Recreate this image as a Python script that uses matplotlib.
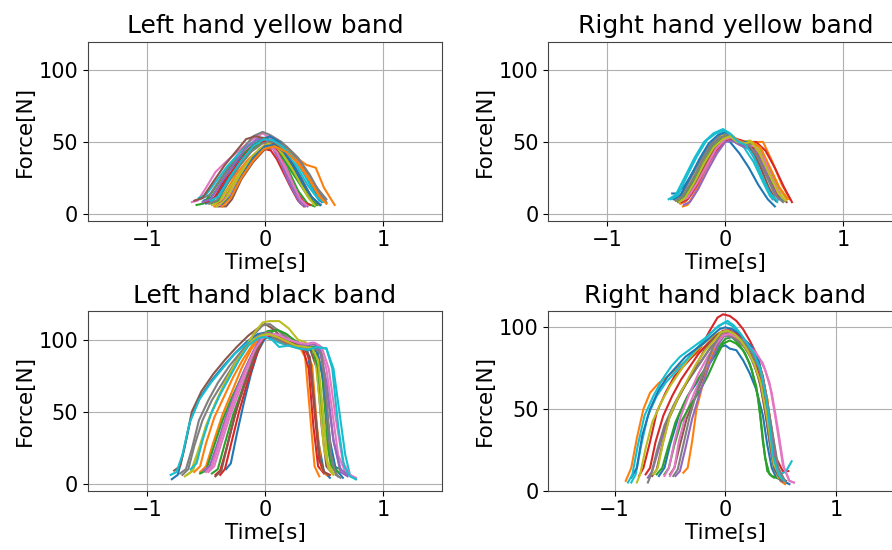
import matplotlib
matplotlib.use("Agg")
import matplotlib.pyplot as plt

# Force profiles per trial: time [s] relative to peak, force [N]

# left hand, yellow band
lh_yellow_t = [
    [-0.52, -0.46, -0.38, -0.3, -0.2, -0.1, 0.0, 0.1, 0.2, 0.3, 0.38, 0.46],
    [-0.45, -0.39, -0.32, -0.24, -0.14, -0.04, 0.05, 0.15, 0.25, 0.35, 0.43, 0.5, 0.59],
    [-0.58, -0.52, -0.44, -0.34, -0.24, -0.14, -0.04, 0.04, 0.12, 0.2, 0.28, 0.36, 0.42],
    [-0.4, -0.33, -0.25, -0.16, -0.07, 0.0, 0.05, 0.1, 0.16, 0.22, 0.28, 0.33],
    [-0.42, -0.36, -0.28, -0.18, -0.08, 0.0, 0.07, 0.13, 0.19, 0.25, 0.3, 0.34],
    [-0.4, -0.33, -0.28, -0.2, -0.1, 0.0, 0.1, 0.2, 0.28, 0.36, 0.44],
    [-0.62, -0.57, -0.5, -0.42, -0.32, -0.22, -0.12, -0.02, 0.06, 0.14, 0.22, 0.28, 0.32],
    [-0.55, -0.47, -0.38, -0.28, -0.18, -0.1, -0.02, 0.04, 0.14, 0.24, 0.34, 0.44, 0.52],
    [-0.45, -0.38, -0.3, -0.2, -0.1, 0.0, 0.08, 0.16, 0.24, 0.32, 0.4, 0.46],
    [-0.56, -0.5, -0.42, -0.32, -0.22, -0.12, -0.02, 0.06, 0.16, 0.26, 0.36, 0.46],
    [-0.5, -0.43, -0.34, -0.24, -0.14, -0.04, 0.04, 0.12, 0.22, 0.32, 0.42, 0.48],
    [-0.43, -0.36, -0.28, -0.18, -0.08, 0.0, 0.08, 0.18, 0.28, 0.38, 0.46, 0.52],
    [-0.47, -0.4, -0.31, -0.21, -0.11, -0.02, 0.06, 0.14, 0.22, 0.3, 0.38, 0.44],
    [-0.5, -0.43, -0.34, -0.24, -0.14, -0.05, 0.02, 0.1, 0.18, 0.26, 0.33, 0.38],
    [-0.53, -0.46, -0.37, -0.27, -0.17, -0.07, 0.0, 0.08, 0.16, 0.24, 0.31, 0.36],
    [-0.6, -0.53, -0.44, -0.34, -0.24, -0.16, -0.08, 0.02, 0.12, 0.22, 0.32, 0.4, 0.47],
    [-0.38, -0.31, -0.23, -0.13, -0.04, 0.03, 0.1, 0.17, 0.24, 0.3, 0.35],
    [-0.48, -0.41, -0.32, -0.22, -0.12, -0.02, 0.08, 0.18, 0.28, 0.38, 0.46, 0.52],
    [-0.41, -0.34, -0.25, -0.15, -0.05, 0.03, 0.12, 0.2, 0.28, 0.36, 0.42],
    [-0.46, -0.39, -0.3, -0.2, -0.1, -0.01, 0.07, 0.16, 0.25, 0.34, 0.42, 0.49],
    [-0.36, -0.29, -0.2, -0.1, 0.0, 0.08, 0.16, 0.24, 0.32, 0.4, 0.47],
    [-0.36, -0.29, -0.2, -0.1, -0.01, 0.08, 0.18, 0.28, 0.38, 0.46, 0.52],
]
lh_yellow_f = [
    [9, 11, 20, 30, 40, 48, 53, 50, 40, 26, 13, 6],
    [6, 8, 17, 28, 38, 45, 48, 45, 40, 34, 32, 18, 6],
    [6, 7, 16, 28, 38, 45, 51, 50, 42, 30, 16, 7, 5],
    [6, 11, 22, 33, 41, 45, 44, 38, 28, 18, 9, 5],
    [5, 8, 20, 32, 42, 47, 45, 36, 24, 14, 7, 5],
    [5, 5, 10, 24, 36, 45, 46, 38, 26, 14, 6],
    [8, 9, 18, 29, 37, 44, 51, 56, 52, 40, 24, 12, 7],
    [10, 13, 24, 36, 46, 54, 57, 55, 50, 42, 30, 18, 10],
    [6, 9, 18, 30, 41, 47, 46, 40, 30, 18, 9, 6],
    [11, 13, 22, 33, 42, 49, 53, 51, 44, 34, 20, 9],
    [7, 10, 21, 33, 43, 51, 54, 50, 42, 30, 16, 8],
    [5, 7, 18, 31, 42, 48, 49, 45, 36, 24, 13, 7],
    [7, 9, 22, 34, 44, 50, 48, 40, 30, 20, 10, 6],
    [8, 11, 23, 34, 44, 50, 50, 44, 30, 16, 8, 6],
    [8, 10, 22, 34, 45, 52, 52, 45, 32, 18, 8, 5],
    [9, 11, 22, 34, 44, 52, 54, 52, 46, 36, 22, 11, 6],
    [6, 12, 24, 37, 45, 48, 43, 32, 20, 10, 6],
    [7, 9, 21, 33, 43, 49, 50, 47, 39, 27, 15, 8],
    [5, 9, 22, 35, 45, 49, 45, 36, 24, 12, 6],
    [9, 12, 25, 37, 47, 52, 51, 46, 38, 26, 14, 8],
    [6, 12, 26, 39, 47, 48, 43, 33, 21, 11, 6],
    [5, 11, 25, 37, 45, 47, 43, 35, 23, 12, 7],
]

# right hand, yellow band
rh_yellow_t = [
    [-0.45, -0.41, -0.34, -0.26, -0.18, -0.1, -0.02, 0.04, 0.12, 0.2, 0.28, 0.36, 0.42],
    [-0.36, -0.32, -0.26, -0.18, -0.1, -0.02, 0.04, 0.1, 0.18, 0.26, 0.32, 0.4, 0.48, 0.55],
    [-0.42, -0.36, -0.28, -0.2, -0.12, -0.04, 0.02, 0.08, 0.14, 0.2, 0.28, 0.36, 0.44, 0.52],
    [-0.4, -0.34, -0.26, -0.18, -0.1, -0.02, 0.04, 0.1, 0.18, 0.26, 0.34, 0.42, 0.5, 0.565],
    [-0.38, -0.34, -0.28, -0.2, -0.12, -0.04, 0.02, 0.08, 0.14, 0.2, 0.26, 0.34, 0.4],
    [-0.4, -0.34, -0.26, -0.18, -0.1, -0.02, 0.04, 0.1, 0.16, 0.22, 0.3, 0.38, 0.46, 0.52],
    [-0.36, -0.31, -0.24, -0.16, -0.08, 0.0, 0.06, 0.12, 0.18, 0.24, 0.32, 0.4, 0.46],
    [-0.43, -0.37, -0.29, -0.21, -0.13, -0.05, 0.01, 0.07, 0.13, 0.2, 0.28, 0.36, 0.43, 0.5],
    [-0.41, -0.35, -0.27, -0.19, -0.11, -0.03, 0.03, 0.09, 0.15, 0.21, 0.28, 0.36, 0.44, 0.52],
    [-0.48, -0.42, -0.34, -0.26, -0.18, -0.1, -0.02, 0.04, 0.1, 0.16, 0.24, 0.32, 0.38, 0.44],
    [-0.44, -0.38, -0.3, -0.22, -0.14, -0.06, 0.0, 0.06, 0.12, 0.18, 0.26, 0.34, 0.42, 0.48],
    [-0.38, -0.33, -0.25, -0.17, -0.09, -0.01, 0.05, 0.11, 0.17, 0.23, 0.3, 0.38, 0.46, 0.53],
    [-0.4, -0.35, -0.27, -0.19, -0.11, -0.03, 0.03, 0.09, 0.15, 0.22, 0.3, 0.38, 0.45],
    [-0.37, -0.32, -0.24, -0.16, -0.08, 0.0, 0.06, 0.12, 0.18, 0.24, 0.31, 0.38, 0.45],
    [-0.35, -0.3, -0.23, -0.15, -0.07, 0.0, 0.06, 0.12, 0.18, 0.25, 0.32, 0.39, 0.45],
    [-0.39, -0.33, -0.25, -0.17, -0.09, -0.01, 0.05, 0.11, 0.17, 0.23, 0.3, 0.37, 0.43],
    [-0.37, -0.32, -0.24, -0.16, -0.08, 0.0, 0.06, 0.12, 0.18, 0.25, 0.33, 0.41, 0.48],
    [-0.42, -0.36, -0.28, -0.2, -0.12, -0.04, 0.02, 0.08, 0.14, 0.2, 0.27, 0.35, 0.42, 0.49],
    [-0.39, -0.34, -0.26, -0.18, -0.1, -0.02, 0.04, 0.1, 0.16, 0.22, 0.29, 0.37, 0.45, 0.51],
    [-0.46, -0.4, -0.32, -0.24, -0.16, -0.08, -0.01, 0.05, 0.11, 0.17, 0.24, 0.31, 0.38, 0.44],
]
rh_yellow_f = [
    [14, 14, 20, 31, 42, 50, 52, 50, 42, 32, 20, 10, 5],
    [5, 6, 14, 28, 40, 50, 53, 51, 48, 50, 50, 36, 20, 10],
    [9, 12, 23, 35, 46, 53, 55, 52, 50, 50, 46, 34, 20, 11],
    [9, 11, 20, 32, 44, 52, 54, 52, 50, 50, 44, 32, 18, 8],
    [7, 8, 14, 26, 38, 48, 52, 50, 48, 46, 36, 20, 10],
    [10, 13, 23, 35, 46, 52, 53, 49, 48, 46, 34, 22, 12, 8],
    [8, 11, 20, 32, 43, 51, 52, 48, 46, 44, 34, 20, 10],
    [10, 13, 25, 37, 48, 54, 56, 52, 49, 49, 42, 28, 15, 9],
    [9, 12, 24, 36, 47, 54, 55, 50, 50, 51, 46, 32, 18, 10],
    [10, 13, 26, 39, 50, 56, 59, 56, 50, 46, 36, 22, 12, 8],
    [10, 13, 25, 38, 49, 55, 57, 54, 50, 50, 44, 30, 16, 9],
    [7, 9, 20, 33, 45, 53, 55, 51, 49, 50, 46, 32, 18, 10],
    [8, 11, 22, 34, 46, 52, 54, 50, 48, 48, 40, 24, 12],
    [8, 10, 20, 33, 44, 51, 52, 49, 47, 46, 36, 22, 11],
    [6, 8, 17, 30, 42, 50, 51, 48, 46, 44, 34, 20, 10],
    [8, 11, 22, 35, 46, 52, 53, 50, 48, 44, 32, 18, 9],
    [9, 11, 21, 33, 45, 52, 53, 50, 48, 47, 38, 22, 11],
    [9, 12, 23, 36, 47, 53, 55, 51, 49, 48, 40, 26, 13, 8],
    [8, 11, 22, 35, 46, 52, 54, 50, 49, 50, 42, 28, 14, 9],
    [10, 13, 27, 40, 51, 56, 58, 55, 50, 48, 40, 26, 14, 9],
]

# left hand, black band
lh_black_t = [
    [-0.79, -0.74, -0.69, -0.63, -0.55, -0.45, -0.35, -0.25, -0.15, -0.06, 0.0, 0.06, 0.14, 0.22, 0.3, 0.36, 0.4, 0.45, 0.5, 0.55],
    [-0.55, -0.5, -0.44, -0.36, -0.28, -0.2, -0.12, -0.05, 0.0, 0.08, 0.16, 0.24, 0.3, 0.34, 0.38, 0.42, 0.46],
    [-0.55, -0.5, -0.44, -0.36, -0.28, -0.2, -0.12, -0.04, 0.02, 0.1, 0.18, 0.26, 0.34, 0.42, 0.48, 0.53, 0.58, 0.64],
    [-0.42, -0.38, -0.32, -0.26, -0.18, -0.1, -0.03, 0.02, 0.08, 0.16, 0.24, 0.32, 0.37, 0.41, 0.45, 0.5],
    [-0.5, -0.45, -0.39, -0.31, -0.23, -0.15, -0.07, 0.0, 0.08, 0.16, 0.24, 0.32, 0.4, 0.46, 0.52, 0.58, 0.64, 0.7],
    [-0.77, -0.72, -0.67, -0.62, -0.54, -0.44, -0.34, -0.24, -0.14, -0.06, 0.0, 0.06, 0.14, 0.22, 0.3, 0.38, 0.44, 0.48, 0.52, 0.56],
    [-0.48, -0.43, -0.37, -0.3, -0.22, -0.14, -0.06, 0.0, 0.08, 0.16, 0.24, 0.32, 0.4, 0.46, 0.52, 0.57, 0.62, 0.68, 0.74],
    [-0.7, -0.65, -0.6, -0.53, -0.45, -0.36, -0.27, -0.18, -0.09, -0.02, 0.04, 0.12, 0.2, 0.28, 0.36, 0.44, 0.5, 0.54, 0.58, 0.62],
    [-0.68, -0.63, -0.57, -0.5, -0.42, -0.34, -0.25, -0.16, -0.08, -0.02, 0.04, 0.12, 0.2, 0.28, 0.35, 0.42, 0.46, 0.5, 0.54, 0.58],
    [-0.8, -0.75, -0.7, -0.64, -0.56, -0.46, -0.36, -0.26, -0.16, -0.08, -0.02, 0.04, 0.12, 0.2, 0.28, 0.36, 0.44, 0.52, 0.58, 0.63, 0.68, 0.72, 0.77],
    [-0.33, -0.29, -0.24, -0.18, -0.12, -0.06, 0.0, 0.06, 0.14, 0.22, 0.3, 0.38, 0.44, 0.5, 0.55, 0.6, 0.66],
    [-0.6, -0.55, -0.5, -0.43, -0.35, -0.27, -0.19, -0.11, -0.04, 0.02, 0.1, 0.18, 0.26, 0.34, 0.4, 0.44, 0.48, 0.52],
    [-0.45, -0.4, -0.34, -0.27, -0.19, -0.11, -0.04, 0.02, 0.1, 0.18, 0.26, 0.34, 0.4, 0.45, 0.5, 0.56, 0.62],
    [-0.38, -0.34, -0.28, -0.22, -0.15, -0.08, -0.02, 0.04, 0.12, 0.2, 0.28, 0.34, 0.38, 0.42, 0.46, 0.5, 0.55],
    [-0.52, -0.47, -0.41, -0.34, -0.26, -0.18, -0.1, -0.03, 0.03, 0.11, 0.19, 0.27, 0.35, 0.42, 0.47, 0.52, 0.58, 0.64, 0.7],
    [-0.42, -0.37, -0.31, -0.24, -0.16, -0.08, -0.02, 0.04, 0.12, 0.2, 0.28, 0.34, 0.38, 0.42, 0.46, 0.5, 0.54],
    [-0.5, -0.45, -0.39, -0.32, -0.24, -0.16, -0.08, -0.02, 0.04, 0.12, 0.2, 0.28, 0.36, 0.42, 0.48, 0.54, 0.6, 0.66, 0.72, 0.77],
    [-0.72, -0.67, -0.62, -0.56, -0.48, -0.4, -0.3, -0.2, -0.1, -0.03, 0.03, 0.1, 0.18, 0.26, 0.34, 0.42, 0.48, 0.52, 0.56, 0.6, 0.64],
    [-0.66, -0.61, -0.56, -0.5, -0.42, -0.34, -0.26, -0.18, -0.1, -0.03, 0.03, 0.1, 0.18, 0.26, 0.34, 0.4, 0.45, 0.49, 0.53, 0.58],
    [-0.63, -0.58, -0.53, -0.46, -0.38, -0.3, -0.22, -0.14, -0.06, 0.0, 0.06, 0.12, 0.2, 0.28, 0.36, 0.44, 0.52, 0.57, 0.62, 0.67, 0.72, 0.77],
]
lh_black_f = [
    [3, 6, 22, 45, 60, 72, 82, 91, 99, 104, 105, 102, 99, 96, 95, 92, 70, 30, 8, 4],
    [8, 12, 28, 48, 64, 80, 93, 101, 103, 101, 97, 95, 94, 88, 50, 12, 5],
    [7, 9, 24, 44, 60, 74, 88, 100, 106, 107, 104, 98, 96, 95, 80, 30, 12, 10],
    [6, 9, 26, 46, 68, 88, 100, 103, 101, 100, 98, 94, 80, 40, 12, 7],
    [9, 12, 28, 48, 66, 82, 96, 104, 103, 100, 98, 96, 98, 94, 70, 30, 8, 5],
    [9, 12, 30, 50, 64, 76, 86, 95, 103, 108, 111, 108, 102, 97, 95, 94, 80, 40, 12, 8],
    [8, 12, 28, 46, 64, 80, 94, 102, 104, 103, 100, 96, 97, 96, 80, 50, 20, 8, 5],
    [6, 10, 26, 44, 58, 70, 82, 94, 104, 110, 111, 106, 100, 96, 95, 94, 70, 30, 10, 5],
    [5, 8, 22, 40, 56, 70, 84, 96, 106, 112, 113, 113, 108, 100, 98, 92, 60, 24, 10, 6],
    [6, 8, 20, 42, 58, 70, 80, 90, 97, 101, 102, 101, 98, 96, 95, 93, 94, 94, 80, 50, 20, 6, 3],
    [10, 14, 34, 56, 76, 92, 101, 102, 99, 96, 94, 93, 92, 70, 30, 10, 4],
    [8, 12, 28, 46, 60, 74, 86, 96, 103, 105, 102, 98, 95, 94, 82, 40, 10, 6],
    [7, 10, 28, 48, 66, 84, 98, 104, 107, 104, 99, 96, 94, 80, 40, 12, 8],
    [6, 10, 30, 50, 70, 88, 100, 103, 101, 98, 96, 93, 86, 50, 16, 8, 6],
    [9, 12, 26, 44, 62, 78, 92, 102, 105, 102, 99, 97, 96, 97, 92, 70, 30, 10, 6],
    [5, 9, 30, 52, 72, 90, 100, 104, 102, 99, 96, 94, 88, 55, 20, 8, 6],
    [8, 12, 28, 46, 64, 80, 94, 101, 104, 103, 100, 98, 97, 98, 95, 80, 45, 15, 6, 4],
    [7, 10, 24, 44, 58, 70, 82, 92, 100, 104, 104, 100, 97, 95, 94, 94, 90, 60, 20, 6, 4],
    [6, 9, 22, 40, 56, 70, 82, 92, 100, 103, 104, 102, 99, 96, 95, 94, 86, 50, 15, 7],
    [10, 14, 30, 48, 62, 74, 86, 96, 101, 102, 100, 95, 96, 94, 93, 95, 94, 80, 40, 12, 5, 3],
]

# right hand, black band
rh_black_t = [
    [-0.6, -0.55, -0.5, -0.42, -0.34, -0.26, -0.18, -0.1, -0.04, 0.0, 0.04, 0.1, 0.16, 0.22, 0.28, 0.34, 0.38, 0.42, 0.46, 0.52, 0.58],
    [-0.9, -0.85, -0.8, -0.74, -0.68, -0.6, -0.52, -0.42, -0.32, -0.22, -0.12, -0.04, 0.02, 0.08, 0.14, 0.2, 0.26, 0.32, 0.38, 0.42, 0.46, 0.5, 0.54],
    [-0.62, -0.57, -0.52, -0.45, -0.37, -0.29, -0.21, -0.13, -0.06, 0.0, 0.06, 0.12, 0.18, 0.24, 0.3, 0.34, 0.38, 0.42, 0.46],
    [-0.78, -0.74, -0.68, -0.62, -0.54, -0.46, -0.38, -0.3, -0.22, -0.14, -0.07, -0.02, 0.04, 0.1, 0.16, 0.22, 0.28, 0.34, 0.4, 0.46, 0.52, 0.57],
    [-0.7, -0.66, -0.6, -0.53, -0.45, -0.37, -0.29, -0.21, -0.13, -0.06, 0.0, 0.06, 0.12, 0.18, 0.24, 0.3, 0.36, 0.42, 0.48, 0.54],
    [-0.5, -0.46, -0.41, -0.35, -0.28, -0.21, -0.14, -0.07, -0.01, 0.05, 0.11, 0.17, 0.23, 0.29, 0.35, 0.4, 0.45, 0.5, 0.55],
    [-0.5, -0.46, -0.42, -0.36, -0.28, -0.2, -0.12, -0.05, 0.0, 0.06, 0.12, 0.18, 0.24, 0.3, 0.36, 0.42, 0.48, 0.53, 0.58, 0.62],
    [-0.7, -0.67, -0.62, -0.55, -0.47, -0.39, -0.31, -0.23, -0.15, -0.07, -0.01, 0.05, 0.11, 0.17, 0.23, 0.29, 0.35, 0.4, 0.45, 0.5, 0.55],
    [-0.8, -0.77, -0.72, -0.66, -0.58, -0.5, -0.42, -0.34, -0.26, -0.18, -0.1, -0.04, 0.02, 0.08, 0.14, 0.2, 0.26, 0.32, 0.38, 0.43, 0.48, 0.53],
    [-0.85, -0.81, -0.76, -0.7, -0.62, -0.54, -0.46, -0.38, -0.3, -0.22, -0.14, -0.06, 0.0, 0.06, 0.12, 0.18, 0.24, 0.3, 0.36, 0.4, 0.44, 0.5, 0.55, 0.6],
    [-0.85, -0.8, -0.75, -0.68, -0.6, -0.52, -0.44, -0.36, -0.28, -0.2, -0.12, -0.05, 0.0, 0.06, 0.12, 0.18, 0.24, 0.3, 0.35, 0.4, 0.45, 0.5, 0.55],
    [-0.38, -0.34, -0.3, -0.26, -0.2, -0.14, -0.08, -0.03, 0.02, 0.08, 0.14, 0.2, 0.26, 0.32, 0.38, 0.44, 0.5, 0.54],
    [-0.55, -0.51, -0.46, -0.4, -0.32, -0.24, -0.16, -0.08, -0.02, 0.04, 0.1, 0.16, 0.22, 0.28, 0.32, 0.36, 0.4, 0.44],
    [-0.72, -0.68, -0.63, -0.56, -0.48, -0.4, -0.32, -0.24, -0.16, -0.08, -0.02, 0.04, 0.1, 0.16, 0.22, 0.28, 0.34, 0.4, 0.46, 0.52],
    [-0.45, -0.41, -0.36, -0.3, -0.22, -0.14, -0.06, 0.0, 0.06, 0.12, 0.18, 0.24, 0.3, 0.36, 0.42, 0.48, 0.52],
    [-0.66, -0.62, -0.57, -0.51, -0.43, -0.35, -0.27, -0.19, -0.11, -0.04, 0.02, 0.08, 0.14, 0.2, 0.26, 0.32, 0.38, 0.44, 0.5],
    [-0.55, -0.51, -0.46, -0.4, -0.32, -0.24, -0.16, -0.08, -0.02, 0.04, 0.1, 0.16, 0.22, 0.28, 0.34, 0.4, 0.46, 0.52, 0.58, 0.62],
    [-0.47, -0.43, -0.38, -0.32, -0.25, -0.18, -0.11, -0.05, 0.0, 0.06, 0.12, 0.18, 0.24, 0.3, 0.36, 0.42, 0.48, 0.54],
    [-0.65, -0.61, -0.56, -0.5, -0.42, -0.34, -0.26, -0.18, -0.1, -0.04, 0.02, 0.08, 0.14, 0.2, 0.26, 0.32, 0.38, 0.44, 0.5],
    [-0.88, -0.84, -0.79, -0.73, -0.65, -0.57, -0.49, -0.41, -0.33, -0.25, -0.17, -0.09, -0.03, 0.02, 0.08, 0.14, 0.2, 0.26, 0.32, 0.38, 0.43, 0.48, 0.53],
]
rh_black_f = [
    [9, 14, 28, 46, 58, 66, 74, 82, 88, 89, 87, 86, 80, 72, 62, 46, 28, 14, 8, 6, 4],
    [6, 14, 32, 50, 60, 66, 70, 76, 81, 86, 92, 96, 97, 95, 92, 88, 82, 74, 56, 30, 12, 6, 4],
    [10, 14, 26, 42, 54, 64, 72, 80, 88, 93, 94, 90, 84, 74, 56, 30, 12, 9, 8],
    [9, 14, 30, 48, 60, 70, 76, 82, 88, 98, 106, 108, 107, 104, 99, 92, 84, 70, 46, 20, 12, 12],
    [8, 12, 26, 42, 54, 64, 72, 80, 88, 93, 95, 94, 92, 88, 80, 70, 50, 20, 8, 5],
    [10, 14, 28, 44, 56, 68, 80, 90, 95, 96, 94, 90, 84, 76, 60, 34, 14, 8, 6],
    [9, 14, 30, 46, 60, 72, 84, 94, 98, 99, 96, 92, 88, 82, 74, 60, 36, 14, 6, 5],
    [5, 10, 24, 40, 52, 62, 70, 78, 86, 92, 95, 95, 92, 88, 82, 74, 56, 30, 12, 6, 5],
    [5, 10, 26, 42, 54, 64, 72, 80, 86, 91, 95, 97, 98, 96, 92, 86, 78, 66, 44, 18, 8, 6],
    [5, 10, 28, 46, 58, 66, 72, 78, 84, 90, 96, 101, 103, 101, 97, 92, 86, 78, 60, 36, 14, 10, 12, 18],
    [8, 14, 34, 50, 62, 70, 76, 82, 86, 90, 95, 99, 100, 99, 96, 92, 88, 80, 66, 40, 15, 8, 5],
    [11, 14, 30, 50, 66, 80, 90, 95, 96, 95, 92, 88, 82, 74, 56, 24, 8, 5],
    [10, 14, 28, 42, 52, 60, 70, 82, 90, 92, 90, 86, 78, 64, 44, 20, 10, 8],
    [10, 14, 30, 46, 58, 68, 76, 84, 90, 95, 98, 98, 96, 92, 86, 78, 62, 34, 12, 6],
    [9, 12, 26, 44, 62, 78, 90, 96, 97, 94, 90, 84, 76, 62, 34, 12, 8],
    [9, 13, 28, 44, 56, 66, 76, 86, 93, 97, 98, 96, 92, 86, 78, 64, 40, 14, 7],
    [9, 14, 30, 46, 60, 72, 82, 90, 95, 96, 94, 92, 88, 84, 78, 66, 42, 16, 6, 5],
    [9, 13, 28, 46, 62, 76, 88, 95, 98, 97, 94, 90, 84, 76, 62, 38, 14, 6],
    [10, 14, 30, 46, 58, 68, 78, 86, 92, 97, 98, 96, 92, 86, 78, 66, 44, 16, 8],
    [5, 10, 28, 46, 58, 68, 76, 82, 86, 90, 94, 99, 102, 104, 101, 96, 90, 84, 74, 52, 22, 10, 6],
]

panels = [
    ("Left hand yellow band", lh_yellow_t, lh_yellow_f, [0.0987, 0.5987, 0.3968, 0.3255], (-1.5, 1.5), (-5, 120)),
    ("Right hand yellow band", rh_yellow_t, rh_yellow_f, [0.6147, 0.5987, 0.3968, 0.3255], (-1.5, 1.5), (-5, 120)),
    ("Left hand black band", lh_black_t, lh_black_f, [0.0987, 0.1078, 0.3968, 0.3267], (-1.5, 1.5), (-5, 120)),
    ("Right hand black band", rh_black_t, rh_black_f, [0.6147, 0.1078, 0.3968, 0.3267], (-1.6, 1.6), (0, 110)),
]

fig = plt.figure(figsize=(8.92, 5.5), dpi=100)
for title, ts, fs, rect, xlim, ylim in panels:
    ax = fig.add_axes(rect)
    for t, f in zip(ts, fs):
        ax.plot(t, f)
    ax.set_xlim(*xlim)
    ax.set_ylim(*ylim)
    ax.set_xticks([-1, 0, 1])
    ax.set_yticks([0, 50, 100])
    ax.set_title(title, fontsize=18)
    ax.set_xlabel("Time[s]", fontsize=15.5, labelpad=2)
    ax.set_ylabel("Force[N]", fontsize=15.5, labelpad=3)
    ax.tick_params(labelsize=15)
    ax.grid(True)
    for sp in ax.spines.values():
        sp.set_color("#444444")

fig.savefig("out.png", dpi=100)
